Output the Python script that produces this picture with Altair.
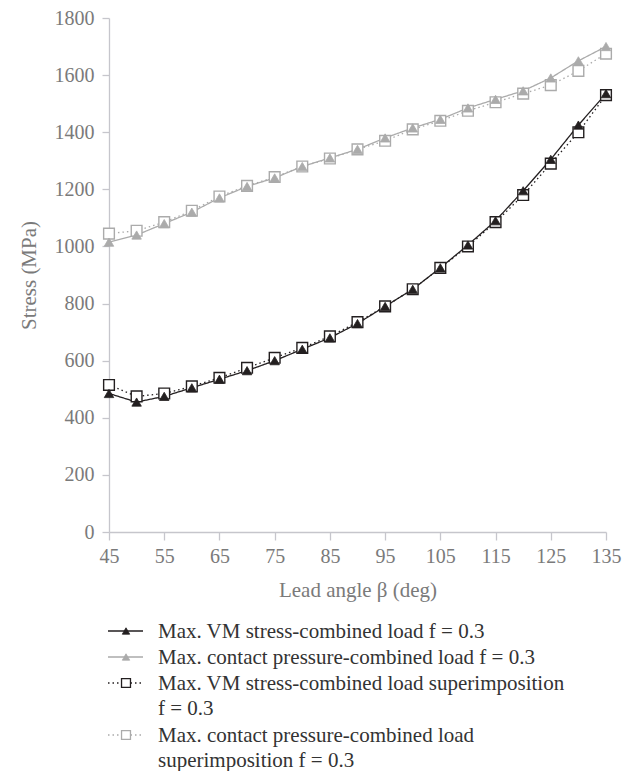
import altair as alt
import pandas as pd

# ---- data ----
angles = [45, 50, 55, 60, 65, 70, 75, 80, 85, 90, 95, 100, 105, 110, 115, 120, 125, 130, 135]
vm_combined = [485, 455, 475, 505, 535, 565, 600, 640, 680, 730, 790, 850, 925, 1005, 1090, 1195, 1305, 1425, 1535]
cp_combined = [1015, 1040, 1080, 1120, 1170, 1210, 1240, 1280, 1310, 1340, 1380, 1415, 1445, 1485, 1515, 1545, 1590, 1650, 1700]
vm_super = [515, 475, 485, 510, 540, 575, 610, 645, 685, 735, 790, 850, 925, 1000, 1085, 1180, 1290, 1400, 1530]
cp_super = [1045, 1055, 1085, 1125, 1175, 1212, 1243, 1280, 1308, 1340, 1370, 1410, 1440, 1475, 1505, 1535, 1565, 1615, 1675]

series_names = [
    "Max. VM stress-combined load f = 0.3",
    "Max. contact pressure-combined load f = 0.3",
    "Max. VM stress-combined load superimposition f = 0.3",
    "Max. contact pressure-combined load superimposition f = 0.3",
]
legend_labels = [
    "Max. VM stress-combined load f = 0.3",
    "Max. contact pressure-combined load f = 0.3",
    "Max. VM stress-combined load superimposition\nf = 0.3",
    "Max. contact pressure-combined load\nsuperimposition f = 0.3",
]
legend_line_counts = [1, 1, 2, 2]
series_kind = ["triangle", "triangle", "square", "square"]

x_ticks = [45, 55, 65, 75, 85, 95, 105, 115, 125, 135]
y_ticks = [0, 200, 400, 600, 800, 1000, 1200, 1400, 1600, 1800]

BLACK = "#231f20"
GRAY = "#ababab"
colors = [BLACK, GRAY, BLACK, GRAY]
fills = [BLACK, GRAY, "white", "white"]
shapes = ["triangle-up", "triangle-up", "square", "square"]
dashes = [[1, 0], [1, 0], [1.5, 3], [1.5, 3]]

FONT = "Liberation Serif"

rows = []
for name, kind, vals in zip(series_names, series_kind, [vm_combined, cp_combined, vm_super, cp_super]):
    for a, v in zip(angles, vals):
        rows.append({"angle": a, "stress": v, "series": name, "kind": kind})
df = pd.DataFrame(rows)

slots = []
acc = 0
for n in legend_line_counts:
    slots.append(acc)
    acc += n
leg_df = pd.DataFrame({"series": series_names, "label": legend_labels, "slot": slots})

stroke_scale = alt.Scale(domain=series_names, range=colors)
fill_scale = alt.Scale(domain=series_names, range=fills)
shape_scale = alt.Scale(domain=series_names, range=shapes)
dash_scale = alt.Scale(domain=series_names, range=dashes)

x_enc = alt.X("angle:Q", scale=alt.Scale(domain=[45, 135], nice=False),
              axis=alt.Axis(values=x_ticks, title="Lead angle β (deg)", tickSize=8, format="d",
                            labelFlush=False, labelPadding=6, titlePadding=13))
y_enc = alt.Y("stress:Q", scale=alt.Scale(domain=[0, 1800], nice=False),
              axis=alt.Axis(values=y_ticks, title="Stress (MPa)", tickSize=7, format="d",
                            labelFlush=False, labelPadding=8, titlePadding=15))

base = alt.Chart(df).encode(x=x_enc, y=y_enc)

lines = base.mark_line(strokeWidth=1.3).encode(
    stroke=alt.Stroke("series:N", scale=stroke_scale, legend=None),
    strokeDash=alt.StrokeDash("series:N", scale=dash_scale, legend=None),
    detail="series:N",
)
squares = base.transform_filter(alt.datum.kind == "square").mark_point(
    size=115, strokeWidth=1.4, opacity=1
).encode(
    shape=alt.Shape("series:N", scale=shape_scale, legend=None),
    stroke=alt.Stroke("series:N", scale=stroke_scale, legend=None),
    fill=alt.Fill("series:N", scale=fill_scale, legend=None),
)
triangles = base.transform_filter(alt.datum.kind == "triangle").mark_point(
    size=90, strokeWidth=0.8, opacity=1
).encode(
    shape=alt.Shape("series:N", scale=shape_scale, legend=None),
    stroke=alt.Stroke("series:N", scale=stroke_scale, legend=None),
    fill=alt.Fill("series:N", scale=fill_scale, legend=None),
)

main = alt.layer(lines, squares, triangles).properties(width=497, height=514)

# ---- legend panel ----
leg_y = alt.Y("slot:Q", scale=alt.Scale(domain=[-0.5, 5.1], range=[0, 145.6]), axis=None)
leg_base = alt.Chart(leg_df).encode(y=leg_y)
leg_rule = leg_base.mark_rule(strokeWidth=1.3).encode(
    x=alt.value(-1), x2=alt.value(34),
    stroke=alt.Stroke("series:N", scale=stroke_scale, legend=None),
    strokeDash=alt.StrokeDash("series:N", scale=dash_scale, legend=None),
)
leg_sq = leg_base.transform_filter(alt.FieldOneOfPredicate(field="series", oneOf=series_names[2:])).mark_point(
    size=80, strokeWidth=1.3, opacity=1
).encode(
    x=alt.value(17),
    shape=alt.Shape("series:N", scale=shape_scale, legend=None),
    stroke=alt.Stroke("series:N", scale=stroke_scale, legend=None),
    fill=alt.Fill("series:N", scale=fill_scale, legend=None),
)
leg_tri = leg_base.transform_filter(alt.FieldOneOfPredicate(field="series", oneOf=series_names[:2])).mark_point(
    size=55, strokeWidth=0.8, opacity=1
).encode(
    x=alt.value(17),
    shape=alt.Shape("series:N", scale=shape_scale, legend=None),
    stroke=alt.Stroke("series:N", scale=stroke_scale, legend=None),
    fill=alt.Fill("series:N", scale=fill_scale, legend=None),
)
leg_text = leg_base.mark_text(
    align="left", baseline="alphabetic", dy=7, font=FONT, fontSize=21,
    color="#333333", lineBreak="\n", lineHeight=25
).encode(x=alt.value(49), text="label:N")

legend_panel = alt.layer(leg_rule, leg_sq, leg_tri, leg_text).properties(width=497, height=146)

chart = alt.vconcat(main, legend_panel, spacing=18).properties(
    padding={"left": 10, "top": 0, "right": 5, "bottom": 0}
).configure_view(stroke=None).configure_axis(
    grid=False,
    domainColor="#c6c6cc",
    tickColor="#c6c6cc",
    domainWidth=1.3,
    tickWidth=1.3,
    labelFont=FONT,
    labelFontSize=20,
    labelColor="#7a7a7a",
    titleFont=FONT,
    titleFontSize=21,
    titleFontWeight="normal",
    titleColor="#7a7a7a",
)

chart.save("out.html", embed_options={"renderer": "svg", "actions": False})
